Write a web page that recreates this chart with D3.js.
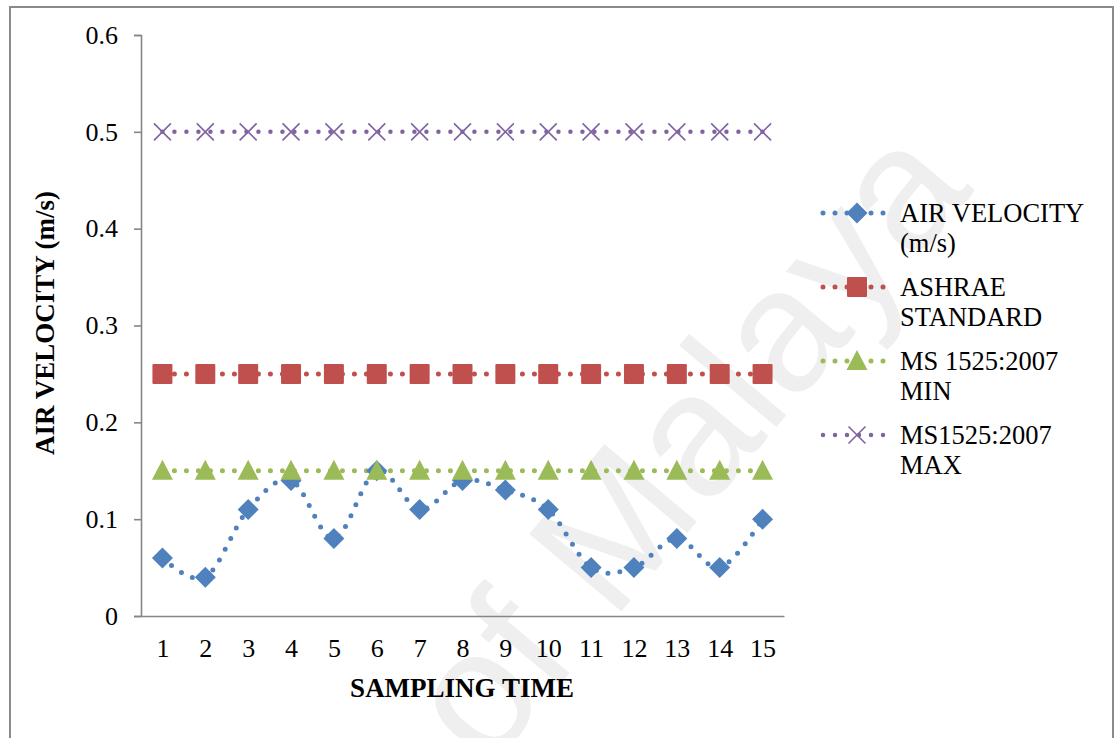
<!DOCTYPE html>
<html>
<head>
<meta charset="utf-8">
<script src="https://cdn.jsdelivr.net/npm/d3@7"></script>
<style>
  html, body { margin: 0; padding: 0; background: #fff; }
  svg { display: block; }
  text { font-family: "Liberation Serif", "Times New Roman", serif; fill: #000; }
</style>
</head>
<body>
<svg id="chart" width="1119" height="738"></svg>
<script>
// Sampling times on the horizontal axis
const samplingTimes = [1, 2, 3, 4, 5, 6, 7, 8, 9, 10, 11, 12, 13, 14, 15];

// Measured air velocity (m/s)
const airVelocity = [0.06, 0.04, 0.11, 0.14, 0.08, 0.15, 0.11, 0.14, 0.13, 0.11, 0.05, 0.05, 0.08, 0.05, 0.10];

// Reference limits (m/s)
const ashraeStandard = [0.25, 0.25, 0.25, 0.25, 0.25, 0.25, 0.25, 0.25, 0.25, 0.25, 0.25, 0.25, 0.25, 0.25, 0.25];
const ms1525Min = [0.15, 0.15, 0.15, 0.15, 0.15, 0.15, 0.15, 0.15, 0.15, 0.15, 0.15, 0.15, 0.15, 0.15, 0.15];
const ms1525Max = [0.5, 0.5, 0.5, 0.5, 0.5, 0.5, 0.5, 0.5, 0.5, 0.5, 0.5, 0.5, 0.5, 0.5, 0.5];

const yTicks = [0, 0.1, 0.2, 0.3, 0.4, 0.5, 0.6];

const seriesNames = [["AIR VELOCITY", "(m/s)"], ["ASHRAE", "STANDARD"], ["MS 1525:2007", "MIN"], ["MS1525:2007", "MAX"]];

const series = [
  { name: seriesNames[0], values: airVelocity, color: "#4F81BD", marker: "diamond", smooth: true },
  { name: seriesNames[1], values: ashraeStandard, color: "#C0504D", marker: "square", smooth: false },
  { name: seriesNames[2], values: ms1525Min, color: "#9BBB59", marker: "triangle", smooth: false },
  { name: seriesNames[3], values: ms1525Max, color: "#8064A2", marker: "cross", smooth: false }
];

const svg = d3.select("#chart");

// Faint watermark behind the plot
svg.append("text")
  .attr("transform", "translate(975,190) rotate(-50)")
  .attr("text-anchor", "end")
  .style("font-family", "'Liberation Sans', Arial, sans-serif")
  .style("font-size", "175px")
  .style("fill", "#efefef")
  .text("of Malaya");

// Outer chart frame
svg.append("rect")
  .attr("x", 10).attr("y", 7)
  .attr("width", 1103).attr("height", 760)
  .attr("fill", "none")
  .attr("stroke", "#8a8a8a")
  .attr("stroke-width", 2);

const x = d3.scalePoint().domain(samplingTimes).range([141, 784]).padding(0.5);
const y = d3.scaleLinear().domain([0, 0.6]).range([616, 35]);

// Value axis
const yAxis = svg.append("g")
  .attr("transform", "translate(141,0)")
  .call(d3.axisLeft(y).tickValues(yTicks).tickSize(7).tickPadding(16)
    .tickFormat(d => d === 0 ? "0" : d3.format(".1f")(d)));
yAxis.selectAll("text").style("font-size", "26px").style("font-family", "'Liberation Serif', serif").attr("fill", "#000");

// Category axis
const xAxis = svg.append("g")
  .attr("transform", "translate(0,616)")
  .call(d3.axisBottom(x).tickSize(0).tickPadding(23));
xAxis.selectAll("text").style("font-size", "26px").style("font-family", "'Liberation Serif', serif").attr("fill", "#000");

svg.selectAll(".domain, .tick line").attr("stroke", "#868686").attr("stroke-width", 1.6);

// Axis titles
svg.append("text")
  .attr("x", 462).attr("y", 697)
  .attr("text-anchor", "middle")
  .style("font-size", "27px").style("font-weight", "bold")
  .text("SAMPLING TIME");

svg.append("text")
  .attr("transform", "translate(54,323) rotate(-90)")
  .attr("text-anchor", "middle")
  .style("font-size", "27px").style("font-weight", "bold")
  .text("AIR VELOCITY (m/s)");

function drawMarker(g, type, color) {
  if (type === "diamond") {
    g.append("path").attr("d", "M0,-10.5L10.5,0L0,10.5L-10.5,0Z").attr("fill", color);
  } else if (type === "square") {
    g.append("rect").attr("x", -10).attr("y", -10).attr("width", 20).attr("height", 20)
      .attr("rx", 1).attr("fill", color);
  } else if (type === "triangle") {
    g.append("path").attr("d", "M0,-11L10.5,9L-10.5,9Z").attr("fill", color);
  } else if (type === "cross") {
    g.append("path").attr("d", "M-8.5,-8.5L8.5,8.5M8.5,-8.5L-8.5,8.5")
      .attr("stroke", color).attr("stroke-width", 1.6).attr("fill", "none");
  }
}

const plot = svg.append("g");

series.forEach(s => {
  const pts = samplingTimes.map((t, i) => [x(t), y(s.values[i])]);
  const line = d3.line().curve(s.smooth ? d3.curveCatmullRom.alpha(0) : d3.curveLinear);
  plot.append("path")
    .attr("d", line(pts))
    .attr("fill", "none")
    .attr("stroke", s.color)
    .attr("stroke-width", s.marker === "cross" ? 4.5 : 5)
    .attr("stroke-linecap", "round")
    .attr("stroke-dasharray", "0 12");
});

series.forEach(s => {
  samplingTimes.forEach((t, i) => {
    const g = plot.append("g").attr("transform", `translate(${x(t)},${y(s.values[i])})`);
    drawMarker(g, s.marker, s.color);
  });
});

// Legend
const legendRows = [213, 287, 361, 435];
series.forEach((s, i) => {
  const ly = legendRows[i];
  const g = svg.append("g");
  g.append("line")
    .attr("x1", 823).attr("x2", 887).attr("y1", ly).attr("y2", ly)
    .attr("stroke", s.color)
    .attr("stroke-width", s.marker === "cross" ? 4.5 : 5)
    .attr("stroke-linecap", "round")
    .attr("stroke-dasharray", "0 12");
  const mg = g.append("g").attr("transform", `translate(857,${ly})`);
  drawMarker(mg, s.marker, s.color);
  const t = g.append("text").attr("x", 900).attr("y", ly + 9).style("font-size", "26.5px");
  t.append("tspan").attr("x", 900).text(s.name[0]);
  t.append("tspan").attr("x", 900).attr("dy", 30).text(s.name[1]);
});
</script>
</body>
</html>
